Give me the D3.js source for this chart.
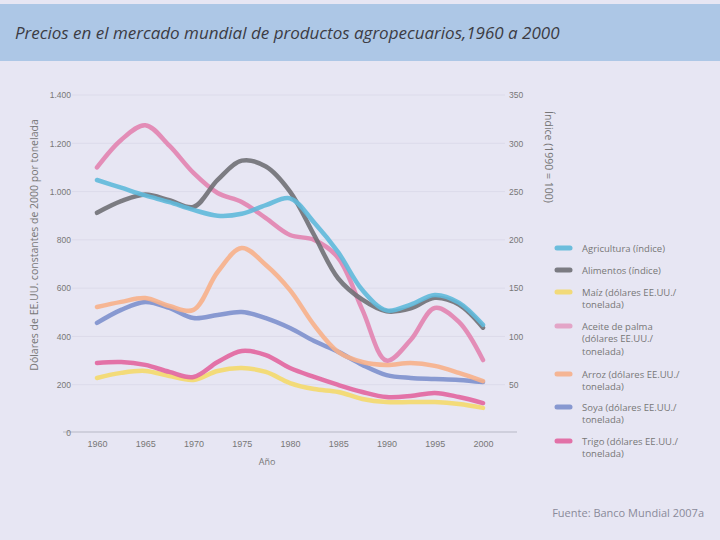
<!DOCTYPE html>
<html><head><meta charset="utf-8">
<script src="https://cdn.jsdelivr.net/npm/d3@7"></script>
<style>
html,body{margin:0;padding:0;background:#e7e6f3;}
svg{display:block;font-family:"Open Sans","DejaVu Sans",sans-serif;}
</style></head><body>
<script>
const years = [1960,1962.5,1965,1967.5,1970,1972.5,1975,1977.5,1980,1982.5,1985,1987.5,1990,1992.5,1995,1997.5,2000];
const xTickLabels = ["1960","1965","1970","1975","1980","1985","1990","1995","2000"];
const xTickValues = [1960,1965,1970,1975,1980,1985,1990,1995,2000];
const leftTicks = [0,200,400,600,800,1000,1200,1400];
const leftTickLabels = ["0","200","400","600","800","1.000","1.200","1.400"];
const rightTicks = [50,100,150,200,250,300,350];

// index series (right axis)
const agricultura = [262,254,246,239,231,225,227,236,243,218,187,148,127,133,143,135,112];
const alimentos   = [228,240,247,241,234,262,282,276,250,205,160,138,126,129,140,133,109];
// price series (left axis, US$/t)
const maiz  = [228,249,257,236,220,257,269,253,207,182,170,141,128,128,128,120,104];
const palma = [1100,1214,1275,1190,1077,994,957,890,820,800,725,510,300,385,518,460,302];
const arroz = [522,543,559,526,510,667,766,696,592,447,336,294,282,290,278,249,215];
const soya  = [456,510,543,518,476,489,501,476,435,381,336,282,240,228,224,220,211];
const trigo = [290,294,282,253,232,294,340,323,269,232,199,170,149,153,166,149,124];

const legendLines = [["Agricultura (índice)"],["Alimentos (índice)"],["Maíz (dólares EE.UU./","tonelada)"],["Aceite de palma","(dólares EE.UU./","tonelada)"],["Arroz (dólares EE.UU./","tonelada)"],["Soya (dólares EE.UU./","tonelada)"],["Trigo (dólares EE.UU./","tonelada)"]];
const colors = ["#5fb9da","#707076","#f4d96c","#e283b0","#f7b08a","#7d90cd","#e2659f"];

const W=720,H=540;
const svg=d3.select("body").append("svg").attr("width",W).attr("height",H);
svg.append("rect").attr("width",W).attr("height",H).attr("fill","#e7e6f3");
// title band
svg.append("rect").attr("x",0).attr("y",4).attr("width",W).attr("height",57).attr("fill","#adc7e6");
svg.append("text").attr("x",15).attr("y",39).attr("font-size",17).attr("font-style","italic")
  .attr("fill","#3c3c44").text("Precios en el mercado mundial de productos agropecuarios,1960 a 2000");

const x=d3.scaleLinear().domain([1960,2000]).range([97,483]);
const yL=d3.scaleLinear().domain([0,1400]).range([433,95]);
const yR=d3.scaleLinear().domain([0,350]).range([433,95]);

// gridlines
svg.append("g").selectAll("line").data(leftTicks.slice(1)).join("line")
  .attr("x1",72).attr("x2",505).attr("y1",d=>yL(d)).attr("y2",d=>yL(d))
  .attr("stroke","#dcdbea").attr("stroke-width",1);

// x axis
const xAxis=d3.axisBottom(x).tickValues(xTickValues).tickFormat((d,i)=>xTickLabels[i]).tickSize(0).tickPadding(9);
const gx=svg.append("g").attr("transform","translate(0,432)").call(xAxis);
gx.select(".domain").remove();
gx.selectAll("text").attr("font-size",9).attr("fill","#777");
svg.append("line").attr("x1",63).attr("x2",517).attr("y1",432).attr("y2",432).attr("stroke","#cfcfdc").attr("stroke-width",2);
svg.append("text").attr("x",267).attr("y",465).attr("text-anchor","middle").attr("font-size",9).attr("fill","#777").text("Año");

// left axis
const yAxisL=d3.axisLeft(yL).tickValues(leftTicks).tickFormat((d,i)=>leftTickLabels[i]).tickSize(0).tickPadding(0);
const gl=svg.append("g").attr("transform","translate(71,0)").call(yAxisL);
gl.select(".domain").remove();
gl.selectAll("text").attr("font-size",8.5).attr("fill","#777");
svg.append("text").attr("transform","translate(38,245) rotate(-90)").attr("text-anchor","middle")
  .attr("font-size",10.5).attr("fill","#777").text("Dólares de EE.UU. constantes de 2000 por tonelada");

// right axis
const yAxisR=d3.axisRight(yR).tickValues(rightTicks).tickSize(0).tickPadding(0);
const gr=svg.append("g").attr("transform","translate(509,0)").call(yAxisR);
gr.select(".domain").remove();
gr.selectAll("text").attr("font-size",8.5).attr("fill","#777");
svg.append("text").attr("transform","translate(545,157) rotate(90)").attr("text-anchor","middle")
  .attr("font-size",10.5).attr("fill","#777").text("Índice (1990 = 100)");

// lines
const series=[
  {v:agricultura,s:yR},{v:alimentos,s:yR},{v:maiz,s:yL},{v:palma,s:yL},
  {v:arroz,s:yL},{v:soya,s:yL},{v:trigo,s:yL}];
const drawOrder=[2,6,5,4,3,1,0];
drawOrder.forEach(i=>{
  const sr=series[i];
  const line=d3.line().x((d,j)=>x(years[j])).y(d=>sr.s(d)).curve(d3.curveCatmullRom.alpha(0.5));
  svg.append("path").datum(sr.v).attr("d",line).attr("fill","none")
    .attr("stroke",colors[i]).attr("stroke-width",4.5).attr("stroke-linecap","round")
    .attr("stroke-linejoin","round").attr("opacity",0.9);
});

// legend
const legY=[248,270,292,326,374,407,441];
const lg=svg.append("g");
legendLines.forEach((ls,i)=>{
  lg.append("line").attr("x1",557).attr("x2",570).attr("y1",legY[i]).attr("y2",legY[i])
    .attr("stroke",colors[i]).attr("stroke-width",5).attr("stroke-linecap","round")
    .attr("opacity", i===3?0.65:0.9);
  const t=lg.append("text").attr("x",582).attr("y",legY[i]+3.5).attr("font-size",9.5).attr("fill","#777");
  ls.forEach((l,k)=>t.append("tspan").attr("x",582).attr("dy",k===0?0:12.5).text(l));
});

svg.append("text").attr("x",704).attr("y",517).attr("text-anchor","end").attr("font-size",11)
  .attr("fill","#8a8a9a").text("Fuente: Banco Mundial 2007a");
</script>
</body></html>
